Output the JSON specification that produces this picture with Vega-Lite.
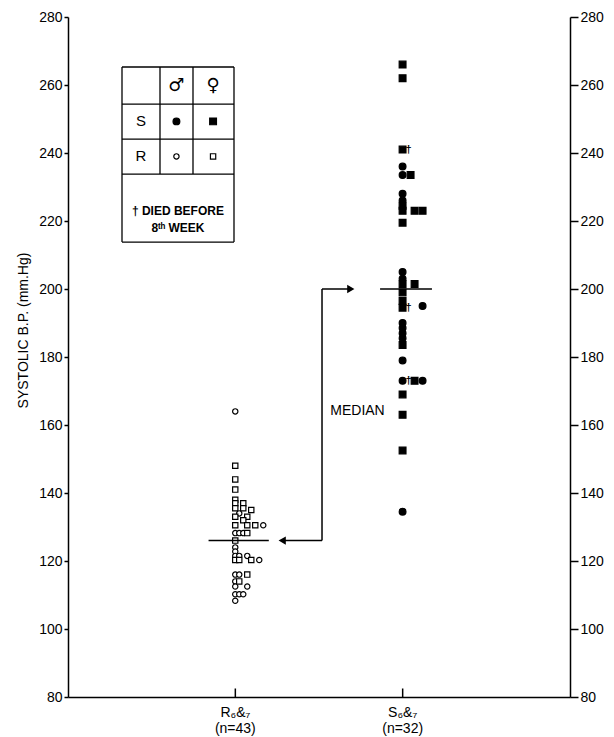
{
  "$schema": "https://vega.github.io/schema/vega-lite/v6.json",
  "width": 502,
  "height": 680,
  "autosize": {"type": "none"},
  "padding": {"left": 68, "top": 17, "right": 44, "bottom": 40},
  "background": "white",
  "config": {
    "view": {"stroke": null},
    "font": "Liberation Sans",
    "axis": {"labelColor": "black", "domainColor": "black", "tickColor": "black", "grid": false, "labelFontSize": 14, "domainWidth": 1.5, "tickWidth": 1.5, "labelFont": "Liberation Sans"}
  },
  "datasets": {
    "pts": [
      {"g": "R", "v": 164, "sex": "M", "col": 0},
      {"g": "R", "v": 148, "sex": "F", "col": 0},
      {"g": "R", "v": 144, "sex": "F", "col": 0},
      {"g": "R", "v": 141, "sex": "F", "col": 0},
      {"g": "R", "v": 138, "sex": "F", "col": 0},
      {"g": "R", "v": 137, "sex": "F", "col": 0},
      {"g": "R", "v": 137, "sex": "F", "col": 2},
      {"g": "R", "v": 135.5, "sex": "F", "col": 0},
      {"g": "R", "v": 135.5, "sex": "F", "col": 2},
      {"g": "R", "v": 135, "sex": "F", "col": 4},
      {"g": "R", "v": 134, "sex": "M", "col": 1},
      {"g": "R", "v": 133, "sex": "F", "col": 0},
      {"g": "R", "v": 133, "sex": "F", "col": 3},
      {"g": "R", "v": 132, "sex": "F", "col": 2},
      {"g": "R", "v": 130.5, "sex": "F", "col": 0},
      {"g": "R", "v": 130.5, "sex": "F", "col": 3},
      {"g": "R", "v": 130.5, "sex": "F", "col": 5},
      {"g": "R", "v": 130.5, "sex": "M", "col": 7},
      {"g": "R", "v": 128.2, "sex": "M", "col": 0},
      {"g": "R", "v": 128.2, "sex": "M", "col": 1},
      {"g": "R", "v": 128.2, "sex": "M", "col": 2},
      {"g": "R", "v": 128.2, "sex": "F", "col": 3},
      {"g": "R", "v": 126, "sex": "F", "col": 0},
      {"g": "R", "v": 124, "sex": "M", "col": 0},
      {"g": "R", "v": 122.8, "sex": "M", "col": 0},
      {"g": "R", "v": 121.5, "sex": "M", "col": 0},
      {"g": "R", "v": 121.5, "sex": "M", "col": 1},
      {"g": "R", "v": 121.5, "sex": "M", "col": 3},
      {"g": "R", "v": 120.3, "sex": "F", "col": 0},
      {"g": "R", "v": 120.3, "sex": "F", "col": 1},
      {"g": "R", "v": 120.3, "sex": "F", "col": 4},
      {"g": "R", "v": 120.3, "sex": "M", "col": 6},
      {"g": "R", "v": 116, "sex": "M", "col": 0},
      {"g": "R", "v": 116, "sex": "M", "col": 1},
      {"g": "R", "v": 116, "sex": "F", "col": 3},
      {"g": "R", "v": 114, "sex": "M", "col": 0},
      {"g": "R", "v": 114, "sex": "F", "col": 1},
      {"g": "R", "v": 112.5, "sex": "M", "col": 0},
      {"g": "R", "v": 112.5, "sex": "M", "col": 3},
      {"g": "R", "v": 110.2, "sex": "M", "col": 0},
      {"g": "R", "v": 110.2, "sex": "M", "col": 1},
      {"g": "R", "v": 110.2, "sex": "M", "col": 2},
      {"g": "R", "v": 108.3, "sex": "M", "col": 0},
      {"g": "S", "v": 266, "sex": "F", "col": 0},
      {"g": "S", "v": 262, "sex": "F", "col": 0},
      {"g": "S", "v": 241, "sex": "F", "col": 0, "died": true},
      {"g": "S", "v": 236, "sex": "M", "col": 0},
      {"g": "S", "v": 233.5, "sex": "M", "col": 0},
      {"g": "S", "v": 233.5, "sex": "F", "col": 2},
      {"g": "S", "v": 228, "sex": "M", "col": 0},
      {"g": "S", "v": 226, "sex": "M", "col": 0},
      {"g": "S", "v": 224.5, "sex": "F", "col": 0},
      {"g": "S", "v": 223, "sex": "F", "col": 0},
      {"g": "S", "v": 223, "sex": "F", "col": 3},
      {"g": "S", "v": 223, "sex": "F", "col": 5},
      {"g": "S", "v": 219.5, "sex": "F", "col": 0},
      {"g": "S", "v": 205, "sex": "M", "col": 0},
      {"g": "S", "v": 203, "sex": "M", "col": 0},
      {"g": "S", "v": 201.5, "sex": "F", "col": 0},
      {"g": "S", "v": 201.5, "sex": "F", "col": 3},
      {"g": "S", "v": 199, "sex": "F", "col": 0},
      {"g": "S", "v": 196.5, "sex": "F", "col": 0},
      {"g": "S", "v": 194.5, "sex": "F", "col": 0, "died": true},
      {"g": "S", "v": 195, "sex": "M", "col": 5},
      {"g": "S", "v": 190, "sex": "M", "col": 0},
      {"g": "S", "v": 188.5, "sex": "M", "col": 0},
      {"g": "S", "v": 187, "sex": "M", "col": 0},
      {"g": "S", "v": 185.5, "sex": "M", "col": 0},
      {"g": "S", "v": 183.5, "sex": "F", "col": 0},
      {"g": "S", "v": 179, "sex": "M", "col": 0},
      {"g": "S", "v": 173, "sex": "M", "col": 0, "died": true},
      {"g": "S", "v": 173, "sex": "F", "col": 3},
      {"g": "S", "v": 173, "sex": "M", "col": 5},
      {"g": "S", "v": 169, "sex": "F", "col": 0},
      {"g": "S", "v": 163, "sex": "F", "col": 0},
      {"g": "S", "v": 152.5, "sex": "F", "col": 0},
      {"g": "S", "v": 134.5, "sex": "M", "col": 0}
    ],
    "xticks": [
      {"g": "R", "lo": 80, "hi": 82.5},
      {"g": "S", "lo": 80, "hi": 82.5}
    ],
    "med": [
      {"g": "R", "v": 126, "xa": 0.84, "xb": 1.2},
      {"g": "S", "v": 200, "xa": 1.865, "xb": 2.175}
    ],
    "arrows": [
      {"xa": 1.518, "xb": 1.518, "ya": 200, "yb": 126},
      {"xa": 1.518, "xb": 1.68, "ya": 200, "yb": 200},
      {"xa": 1.518, "xb": 1.29, "ya": 126, "yb": 126}
    ],
    "heads": [
      {"x": 1.69, "y": 200, "side": "right"},
      {"x": 1.28, "y": 126, "side": "left"}
    ],
    "notes": [
      {"x": 1.73, "y": 164, "t": "MEDIAN"}
    ],
    "lgLines": [
      {"xa": 0.3227, "xb": 0.992, "ya": 265.3, "yb": 265.3},
      {"xa": 0.3227, "xb": 0.992, "ya": 254.4, "yb": 254.4},
      {"xa": 0.3227, "xb": 0.992, "ya": 244.1, "yb": 244.1},
      {"xa": 0.3227, "xb": 0.992, "ya": 233.8, "yb": 233.8},
      {"xa": 0.3227, "xb": 0.992, "ya": 213.8, "yb": 213.8},
      {"xa": 0.3227, "xb": 0.3227, "ya": 265.3, "yb": 213.8},
      {"xa": 0.992, "xb": 0.992, "ya": 265.3, "yb": 213.8},
      {"xa": 0.5498, "xb": 0.5498, "ya": 265.3, "yb": 233.8},
      {"xa": 0.747, "xb": 0.747, "ya": 265.3, "yb": 233.8}
    ],
    "lgText": [
      {"x": 0.436, "y": 249.3, "t": "S", "kind": "label"},
      {"x": 0.436, "y": 239, "t": "R", "kind": "label"},
      {"x": 0.657, "y": 222.9, "t": "† DIED BEFORE", "kind": "note"},
      {"x": 0.657, "y": 217.9, "t": "8ᵗʰ WEEK", "kind": "note"},
      {"x": 0.648, "y": 259.7, "t": "♂", "kind": "sym"},
      {"x": 0.867, "y": 259.7, "t": "♀", "kind": "sym"}
    ],
    "lgPts": [
      {"x": 0.648, "y": 249.3, "sex": "M", "g": "S"},
      {"x": 0.867, "y": 249.3, "sex": "F", "g": "S"},
      {"x": 0.648, "y": 239, "sex": "M", "g": "R"},
      {"x": 0.867, "y": 239, "sex": "F", "g": "R"}
    ]
  },
  "layer": [
    {
      "data": {"name": "pts"},
      "mark": {"type": "point", "filled": true, "stroke": "black", "strokeWidth": 1.2, "opacity": 1},
      "encoding": {
        "x": {"field": "g", "type": "nominal", "scale": {"domain": ["R", "S"], "paddingInner": 0.76, "paddingOuter": 0.88},
          "axis": {"orient": "bottom", "title": null, "labelAngle": 0, "ticks": false, "labelPadding": 8, "labelFontSize": 14, "labelLineHeight": 16, "labelBaseline": "top",
            "labelExpr": "datum.value == 'R' ? ['R₆&₇', '(n=43)'] : ['S₆&₇', '(n=32)']"}},
        "xOffset": {"field": "col", "type": "quantitative", "scale": {"domain": [0, 10], "range": [20, 60]}},
        "y": {"field": "v", "type": "quantitative", "scale": {"domain": [80, 280], "nice": false, "zero": false},
          "axis": {"orient": "left", "values": [80, 100, 120, 140, 160, 180, 200, 220, 240, 260, 280], "title": "SYSTOLIC B.P. (mm.Hg)", "titleFontSize": 14, "titleFontWeight": "normal", "titleColor": "black", "titlePadding": 8, "titleY": 313, "tickSize": 4, "labelPadding": 2}},
        "shape": {"field": "sex", "type": "nominal", "scale": {"domain": ["M", "F"], "range": ["circle", "square"]}, "legend": null},
        "fill": {"field": "g", "type": "nominal", "scale": {"domain": ["R", "S"], "range": ["white", "black"]}, "legend": null},
        "size": {"field": "g", "type": "ordinal", "scale": {"domain": ["R", "S"], "range": [28, 46]}, "legend": null}
      }
    },
    {
      "data": {"name": "pts"},
      "transform": [{"filter": "datum.died === true"}],
      "mark": {"type": "text", "text": "†", "dx": 6, "fontSize": 11, "fontWeight": "bold", "align": "center", "baseline": "middle", "color": "black"},
      "encoding": {
        "x": {"field": "g", "type": "nominal", "scale": {"domain": ["R", "S"], "paddingInner": 0.76, "paddingOuter": 0.88}, "axis": null},
        "xOffset": {"field": "col", "type": "quantitative", "scale": {"domain": [0, 10], "range": [20, 60]}},
        "y": {"field": "v", "type": "quantitative", "scale": {"domain": [80, 280], "nice": false, "zero": false}, "axis": null}
      }
    },
    {
      "data": {"name": "xticks"},
      "mark": {"type": "rule", "strokeWidth": 1.5, "color": "black"},
      "encoding": {
        "x": {"field": "g", "type": "nominal", "scale": {"domain": ["R", "S"], "paddingInner": 0.76, "paddingOuter": 0.88}, "axis": null},
        "y": {"field": "lo", "type": "quantitative", "scale": {"domain": [80, 280], "nice": false, "zero": false}, "axis": null},
        "y2": {"field": "hi"}
      }
    },
    {
      "data": {"name": "med"},
      "mark": {"type": "rule", "strokeWidth": 1.5, "color": "black"},
      "encoding": {
        "x": {"field": "xa", "type": "quantitative", "scale": {"domain": [0, 3], "nice": false, "zero": false}, "axis": null},
        "x2": {"field": "xb"},
        "y": {"field": "v", "type": "quantitative", "scale": {"domain": [80, 280], "nice": false, "zero": false},
          "axis": {"orient": "right", "values": [80, 100, 120, 140, 160, 180, 200, 220, 240, 260, 280], "title": null, "tickSize": 8, "labelPadding": 2}}
      }
    },
    {
      "data": {"name": "arrows"},
      "mark": {"type": "rule", "strokeWidth": 1.5, "color": "black"},
      "encoding": {
        "x": {"field": "xa", "type": "quantitative", "scale": {"domain": [0, 3], "nice": false, "zero": false}, "axis": null},
        "x2": {"field": "xb"},
        "y": {"field": "ya", "type": "quantitative", "scale": {"domain": [80, 280], "nice": false, "zero": false}, "axis": null},
        "y2": {"field": "yb"}
      }
    },
    {
      "data": {"name": "heads"},
      "transform": [{"filter": "datum.side == 'right'"}],
      "mark": {"type": "point", "shape": "triangle-right", "filled": true, "color": "black", "size": 70, "opacity": 1},
      "encoding": {
        "x": {"field": "x", "type": "quantitative", "scale": {"domain": [0, 3], "nice": false, "zero": false}, "axis": null},
        "y": {"field": "y", "type": "quantitative", "scale": {"domain": [80, 280], "nice": false, "zero": false}, "axis": null}
      }
    },
    {
      "data": {"name": "heads"},
      "transform": [{"filter": "datum.side == 'left'"}],
      "mark": {"type": "point", "shape": "triangle-left", "filled": true, "color": "black", "size": 70, "opacity": 1},
      "encoding": {
        "x": {"field": "x", "type": "quantitative", "scale": {"domain": [0, 3], "nice": false, "zero": false}, "axis": null},
        "y": {"field": "y", "type": "quantitative", "scale": {"domain": [80, 280], "nice": false, "zero": false}, "axis": null}
      }
    },
    {
      "data": {"name": "notes"},
      "mark": {"type": "text", "fontSize": 14, "align": "center", "baseline": "middle", "color": "black"},
      "encoding": {
        "x": {"field": "x", "type": "quantitative", "scale": {"domain": [0, 3], "nice": false, "zero": false}, "axis": null},
        "y": {"field": "y", "type": "quantitative", "scale": {"domain": [80, 280], "nice": false, "zero": false}, "axis": null},
        "text": {"field": "t"}
      }
    },
    {
      "data": {"name": "lgLines"},
      "mark": {"type": "rule", "strokeWidth": 1.3, "color": "black"},
      "encoding": {
        "x": {"field": "xa", "type": "quantitative", "scale": {"domain": [0, 3], "nice": false, "zero": false}, "axis": null},
        "x2": {"field": "xb"},
        "y": {"field": "ya", "type": "quantitative", "scale": {"domain": [80, 280], "nice": false, "zero": false}, "axis": null},
        "y2": {"field": "yb"}
      }
    },
    {
      "data": {"name": "lgText"},
      "transform": [{"filter": "datum.kind == 'label'"}],
      "mark": {"type": "text", "fontSize": 15, "align": "center", "baseline": "middle", "color": "black"},
      "encoding": {
        "x": {"field": "x", "type": "quantitative", "scale": {"domain": [0, 3], "nice": false, "zero": false}, "axis": null},
        "y": {"field": "y", "type": "quantitative", "scale": {"domain": [80, 280], "nice": false, "zero": false}, "axis": null},
        "text": {"field": "t"}
      }
    },
    {
      "data": {"name": "lgText"},
      "transform": [{"filter": "datum.kind == 'note'"}],
      "mark": {"type": "text", "fontSize": 12, "fontWeight": "bold", "align": "center", "baseline": "middle", "color": "black"},
      "encoding": {
        "x": {"field": "x", "type": "quantitative", "scale": {"domain": [0, 3], "nice": false, "zero": false}, "axis": null},
        "y": {"field": "y", "type": "quantitative", "scale": {"domain": [80, 280], "nice": false, "zero": false}, "axis": null},
        "text": {"field": "t"}
      }
    },
    {
      "data": {"name": "lgText"},
      "transform": [{"filter": "datum.kind == 'sym'"}],
      "mark": {"type": "text", "font": "DejaVu Sans", "fontSize": 18, "align": "center", "baseline": "middle", "color": "black"},
      "encoding": {
        "x": {"field": "x", "type": "quantitative", "scale": {"domain": [0, 3], "nice": false, "zero": false}, "axis": null},
        "y": {"field": "y", "type": "quantitative", "scale": {"domain": [80, 280], "nice": false, "zero": false}, "axis": null},
        "text": {"field": "t"}
      }
    },
    {
      "data": {"name": "lgPts"},
      "mark": {"type": "point", "filled": true, "stroke": "black", "strokeWidth": 1.2, "opacity": 1},
      "encoding": {
        "x": {"field": "x", "type": "quantitative", "scale": {"domain": [0, 3], "nice": false, "zero": false}, "axis": null},
        "y": {"field": "y", "type": "quantitative", "scale": {"domain": [80, 280], "nice": false, "zero": false}, "axis": null},
        "shape": {"field": "sex", "type": "nominal", "legend": null},
        "fill": {"field": "g", "type": "nominal", "legend": null},
        "size": {"field": "g", "type": "ordinal", "legend": null}
      }
    }
  ],
  "resolve": {"scale": {"x": "independent"}, "axis": {"x": "independent", "y": "independent"}}
}
